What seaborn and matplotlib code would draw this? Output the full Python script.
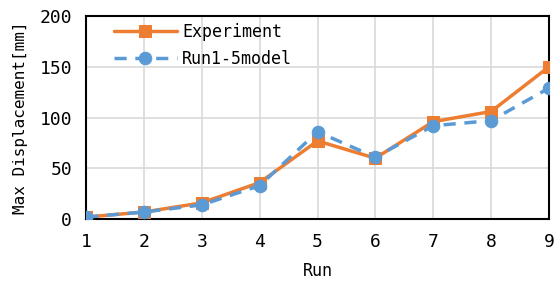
import matplotlib
matplotlib.use("Agg")
import matplotlib.pyplot as plt
import seaborn as sns

runs = [1, 2, 3, 4, 5, 6, 7, 8, 9]
experiment = [2, 7, 16, 36, 77, 60, 96, 106, 150]
model = [2, 7, 14, 33, 86, 61, 92, 97, 129]

sns.set_theme(style="whitegrid")
plt.rcParams['font.family'] = ['DejaVu Sans Mono', 'DejaVu Sans']

fig = plt.figure(figsize=(5.59, 2.82), dpi=100)
ax = fig.add_axes([0.154, 0.223, 0.828, 0.720])

sns.lineplot(x=runs, y=experiment, ax=ax, color="#ED7D31", marker="s", markersize=9,
             linewidth=2.5, markeredgecolor="#ED7D31", label="Experiment", zorder=3)
sns.lineplot(x=runs, y=model, ax=ax, color="#5B9BD5", marker="o", markersize=9,
             linewidth=2.5, linestyle=(0, (3.5, 2.5)), markeredgecolor="#5B9BD5",
             label="Run1-5model", zorder=4)

ax.set_xlim(1, 9)
ax.set_ylim(0, 200)
ax.set_xticks(runs)
ax.set_yticks([0, 50, 100, 150, 200])
ax.set_xlabel("Run", fontsize=12, color="black", labelpad=8)
ax.set_ylabel("Max Displacement[mm]", fontsize=11.5, color="black", labelpad=8)
ax.tick_params(axis="x", labelsize=13, colors="black", length=0, pad=10)
ax.tick_params(axis="y", labelsize=13, colors="black", length=0, pad=10)
ax.grid(True, color="#D9D9D9", linewidth=1.2)
for s in ax.spines.values():
    s.set_color("black")
    s.set_linewidth(1.5)
leg = ax.legend(loc="upper left", frameon=False, fontsize=12, handlelength=3.8,
                handletextpad=0.3, borderaxespad=0.0, labelspacing=0.55,
                bbox_to_anchor=(0.045, 1.0))
for t in leg.get_texts():
    t.set_color("black")

fig.savefig("out.png", dpi=100)
